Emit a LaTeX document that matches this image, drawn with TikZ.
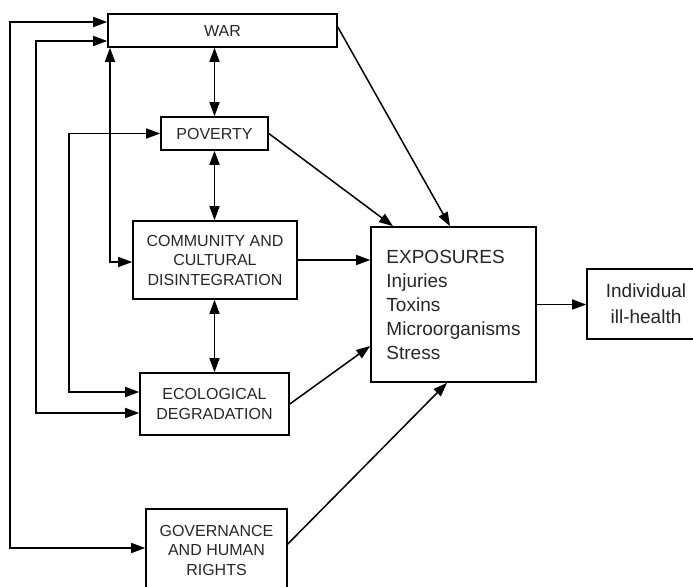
\documentclass[tikz,border=0pt]{standalone}
\usepackage{fontspec}
\setmainfont{Liberation Sans}
\usetikzlibrary{arrows.meta,calc}
\begin{document}
\begin{tikzpicture}[x=1pt,y=-1pt,
  box/.style={draw,line width=1.6pt,inner sep=0pt,align=center,text=black!85,
    font=\fontsize{16}{19.5}\selectfont},
  big/.style={draw,line width=1.6pt,inner sep=0pt,text=black!85,
    font=\fontsize{19}{24}\selectfont},
  arr/.style={line width=1.5pt,-{Triangle[length=14pt,width=10pt]}},
  dbl/.style={line width=1.5pt,{Triangle[length=14pt,width=10pt]}-{Triangle[length=14pt,width=10pt]}}]
\useasboundingbox (0,0) rectangle (693,586);
\node[box,minimum width=229pt,minimum height=33pt] (WAR) at (222.5,30.5) {WAR};
\node[box,minimum width=107pt,minimum height=33pt] (POV) at (214.5,133.5) {POVERTY};
\node[box,minimum width=164pt,minimum height=78pt] (COMM) at (215,260) {COMMUNITY AND\\CULTURAL\\DISINTEGRATION};
\node[box,minimum width=149pt,minimum height=62pt] (ECO) at (214.5,404) {ECOLOGICAL\\DEGRADATION};
\node[box,minimum width=141pt,minimum height=82pt] (GOV) at (216.5,550) {GOVERNANCE\\AND HUMAN\\RIGHTS};
\node[big,minimum width=165pt,minimum height=155pt,align=left] (EXP) at (453.5,304.5) {EXPOSURES\\Injuries\\Toxins\\Microorganisms\\Stress};
\node[big,minimum width=118pt,minimum height=70pt,align=center,font=\fontsize{19}{26}\selectfont] (IND) at (646,304) {Individual\\ill-health};
\coordinate (l1) at (10,0);
\coordinate (l2) at (36,0);
\coordinate (l3) at (69,0);
\coordinate (l4) at (110,0);
% vertical double arrows
\draw[dbl] (WAR.south -| POV.north) -- (POV.north);
\draw[dbl] (POV.south) -- (POV.south |- COMM.north);
\draw[dbl] (COMM.south -| POV.south) -- (POV.south |- ECO.north);
% to exposures
\draw[arr] ([yshift=3.5pt]WAR.east) -- ([xshift=-3.5pt]EXP.north);
\draw[arr] (POV.east) -- ([xshift=-60.5pt]EXP.north);
\draw[arr] (COMM.east) -- (COMM.east -| EXP.west);
\draw[arr] (ECO.east) -- ([yshift=-41.5pt]EXP.west);
\draw[arr] ([yshift=6pt]GOV.east) -- ([xshift=-6.5pt]EXP.south);
\draw[arr] (EXP.east) -- (EXP.east -| IND.west);
% feedback lines
\draw[dbl] ([yshift=8.5pt]WAR.west) -- ([yshift=8.5pt]WAR.west -| l1) -- ([yshift=2pt]GOV.west -| l1) -- ([yshift=2pt]GOV.west);
\draw[dbl] ([yshift=-10.5pt]WAR.west) -- ([yshift=-10.5pt]WAR.west -| l2) -- ([yshift=-9pt]ECO.west -| l2) -- ([yshift=-9pt]ECO.west);
\draw[dbl] (POV.west) -- (POV.west -| l3) -- ([yshift=12pt]ECO.west -| l3) -- ([yshift=12pt]ECO.west);
\draw[dbl] (WAR.south -| l4) -- ([yshift=-2pt]COMM.west -| l4) -- ([yshift=-2pt]COMM.west);
\end{tikzpicture}
\end{document}
